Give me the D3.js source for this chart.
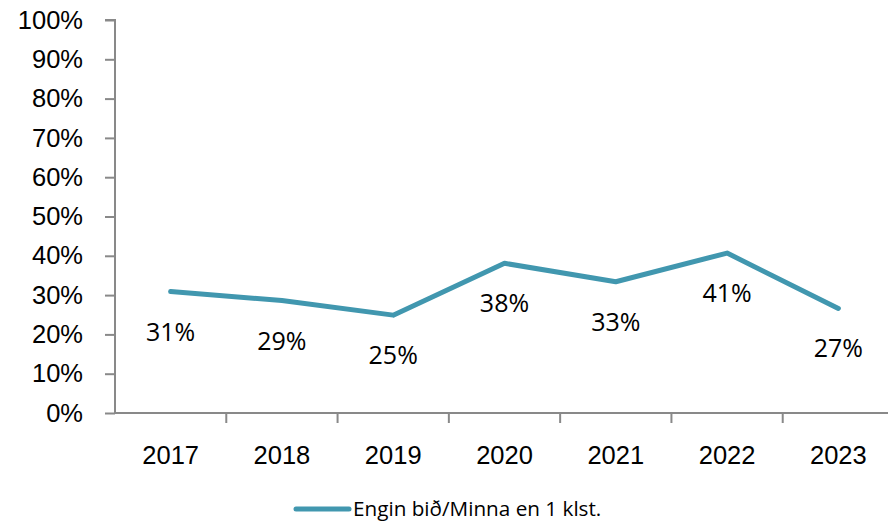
<!DOCTYPE html>
<html>
<head>
<meta charset="utf-8">
<script src="https://cdn.jsdelivr.net/npm/d3@7"></script>
<style>
  body { margin: 0; background: #fff; }
  svg { font-family: "Open Sans", "Liberation Sans", sans-serif; }
  .axis path, .axis line { stroke: #898989; stroke-width: 2px; }
  .axis text { fill: #000; font-size: 25.5px; }
</style>
</head>
<body>
<svg width="888" height="522"></svg>
<script>
// gögnin
var years = ["2017", "2018", "2019", "2020", "2021", "2022", "2023"];
var engin = [30.9, 28.6, 24.9, 38.1, 33.4, 40.7, 26.6];
var seriesName = "Engin bið/Minna en 1 klst.";
var yTicks = [0, 10, 20, 30, 40, 50, 60, 70, 80, 90, 100];

var svg = d3.select("svg"),
    margin = {top: 20, right: -6, bottom: 109, left: 115},
    width = +svg.attr("width") - margin.left - margin.right,
    height = +svg.attr("height") - margin.top - margin.bottom;

var x = d3.scaleBand().domain(years).range([0, width]),
    y = d3.scaleLinear().domain([0, 100]).range([height, 0]);

var g = svg.append("g")
    .attr("transform", "translate(" + margin.left + "," + margin.top + ")");

// y ás
g.append("g")
    .attr("class", "axis")
    .call(d3.axisLeft(y).tickValues(yTicks).tickSize(10).tickPadding(22)
        .tickFormat(function (d) { return d + "%"; }))
    .call(function (a) { a.select(".domain").attr("d", "M0," + (height) + "V0H-10"); });

// x ás, strik á milli flokka
var xAxis = g.append("g")
    .attr("class", "axis")
    .attr("transform", "translate(0," + height + ")")
    .call(d3.axisBottom(x).tickSize(0).tickPadding(33));
xAxis.select(".domain").attr("d", "M0,0H" + width);
xAxis.selectAll(".sep")
    .data(years.slice(1))
    .enter().append("line")
    .attr("class", "sep")
    .attr("x1", function (d) { return x(d); })
    .attr("x2", function (d) { return x(d); })
    .attr("y1", 0)
    .attr("y2", 10);

var line = d3.line()
    .x(function (d, i) { return x(years[i]) + x.bandwidth() / 2; })
    .y(function (d) { return y(d); });

g.append("path")
    .datum(engin)
    .attr("fill", "none")
    .attr("stroke", "#4197AF")
    .attr("stroke-width", 5)
    .attr("stroke-linejoin", "round")
    .attr("stroke-linecap", "round")
    .attr("d", line);

g.selectAll(".lbl")
    .data(engin)
    .enter().append("text")
    .attr("class", "lbl")
    .attr("x", function (d, i) { return x(years[i]) + x.bandwidth() / 2; })
    .attr("y", function (d) { return y(d) + 49; })
    .attr("text-anchor", "middle")
    .attr("font-size", "25px")
    .text(function (d) { return Math.round(d) + "%"; });

// skýring
var leg = svg.append("g").attr("transform", "translate(296,509)");
leg.append("line")
    .attr("x1", 0).attr("x2", 53)
    .attr("stroke", "#4197AF")
    .attr("stroke-width", 5)
    .attr("stroke-linecap", "round");
leg.append("text")
    .attr("x", 57)
    .attr("y", 7)
    .attr("font-size", "20.7px")
    .text(seriesName);
</script>
</body>
</html>
